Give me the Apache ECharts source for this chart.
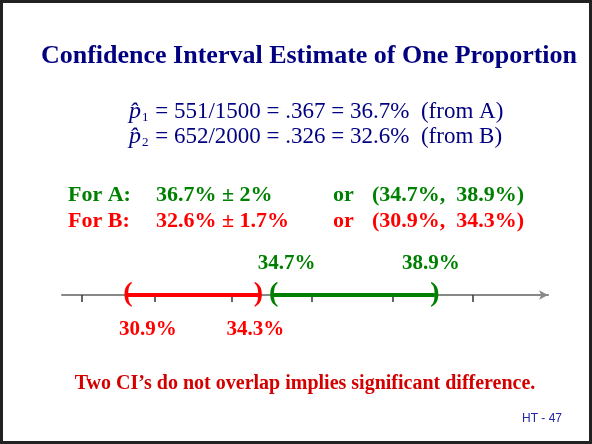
<!DOCTYPE html>
<html>
<head>
<meta charset="utf-8">
<script src="https://cdn.jsdelivr.net/npm/echarts@6/dist/echarts.min.js"></script>
<style>
  html, body { margin: 0; padding: 0; background: #fff; }
  #chart { width: 592px; height: 444px; }
</style>
</head>
<body>
<div id="chart"></div>
<script>
// slide data
var groups = ['A', 'B'];
var successes = [551, 652];
var sampleSizes = [1500, 2000];
var proportionText = ['.367', '.326'];
var estimates = [36.7, 32.6];
var margins = [2, 1.7];
var lowerBounds = [34.7, 30.9];
var upperBounds = [38.9, 34.3];
var tickValues = [29.7, 31.6, 33.6, 35.7, 37.8, 39.9];

var GREEN = '#008000';
var RED = '#ff0000';
var NAVY = '#000080';
var SERIF = '"Liberation Serif", "Times New Roman", serif';
var groupColors = [GREEN, RED];

var myChart = echarts.init(document.getElementById('chart'));

// text pieces of the slide
var graphics = [{
    type: 'rect',
    shape: { x: 1.5, y: 1.5, width: 589, height: 441 },
    style: { fill: 'none', stroke: '#222', lineWidth: 3 },
    silent: true
}, {
    type: 'text', x: 309, y: 56,
    style: {
        text: 'Confidence Interval Estimate of One Proportion',
        fontFamily: SERIF, fontSize: 26, fontWeight: 'bold', fill: NAVY,
        align: 'center', verticalAlign: 'middle'
    }
}];

groups.forEach(function (g, i) {
    var pct = estimates[i].toFixed(1) + '%';
    graphics.push({
        type: 'text', x: 129, y: 112 + i * 25,
        style: {
            text: '{p|p\u0302}{s|' + (i + 1) + '} = ' + successes[i] + '/' + sampleSizes[i] +
                ' = ' + proportionText[i] + ' = ' + pct + '  (from ' + g + ')',
            fontFamily: SERIF, fontSize: 23, fill: NAVY,
            align: 'left', verticalAlign: 'middle',
            rich: {
                p: { fontFamily: SERIF, fontSize: 24, fontStyle: 'italic', fill: NAVY },
                s: { fontFamily: SERIF, fontSize: 13, fill: NAVY, verticalAlign: 'bottom', padding: [9, 1, 0, 1] }
            }
        }
    });

    var rowY = 195 + i * 26;
    var rowStyle = function (txt) {
        return {
            text: txt, fontFamily: SERIF, fontSize: 22, fontWeight: 'bold',
            fill: groupColors[i], align: 'left', verticalAlign: 'middle'
        };
    };
    graphics.push({ type: 'text', x: 68, y: rowY, style: rowStyle('For ' + g + ':') });
    graphics.push({ type: 'text', x: 156, y: rowY, style: rowStyle(pct + ' \u00b1 ' + margins[i] + '%') });
    graphics.push({ type: 'text', x: 333, y: rowY, style: rowStyle('or') });
    graphics.push({ type: 'text', x: 372, y: rowY,
        style: rowStyle('(' + lowerBounds[i].toFixed(1) + '%,  ' + upperBounds[i].toFixed(1) + '%)') });
});

graphics.push({
    type: 'text', x: 305, y: 384,
    style: {
        text: 'Two CI\u2019s do not overlap implies significant difference.',
        fontFamily: SERIF, fontSize: 20, fontWeight: 'bold', fill: '#d40000',
        align: 'center', verticalAlign: 'middle'
    }
});
graphics.push({
    type: 'text', x: 562, y: 419,
    style: {
        text: 'HT - 47', fontFamily: '"Liberation Sans", Arial, sans-serif',
        fontSize: 12, fill: '#2323a8', align: 'right', verticalAlign: 'middle'
    }
});

// number line series
var series = [];
// label offsets: above for A, below for B
var labelOffsets = [[[13, -31], [-4, -31]], [[20, 35], [-3, 35]]];

groups.forEach(function (g, i) {
    var color = groupColors[i];
    series.push({
        name: 'CI ' + g,
        type: 'line',
        data: [[lowerBounds[i], 0], [upperBounds[i], 0]],
        symbol: 'none',
        lineStyle: { color: color, width: 4 },
        z: 3
    });
    series.push({
        name: 'paren ' + g,
        type: 'scatter',
        data: [[lowerBounds[i], 0], [upperBounds[i], 0]],
        symbolSize: 1,
        itemStyle: { color: 'transparent', opacity: 1 },
        label: {
            show: true,
            position: 'inside',
            offset: [0, -1],
            formatter: function (p) { return p.dataIndex === 0 ? '(' : ')'; },
            fontFamily: SERIF, fontSize: 28, fontWeight: 'bold', color: color,
            opacity: 1, textBorderWidth: 0
        },
        z: 4
    });
    series.push({
        name: 'value ' + g,
        type: 'scatter',
        data: [lowerBounds[i], upperBounds[i]].map(function (v, k) {
            return { value: [v, 0], label: { offset: labelOffsets[i][k] } };
        }),
        symbolSize: 1,
        itemStyle: { color: 'transparent', opacity: 1 },
        label: {
            show: true,
            position: 'inside',
            formatter: function (p) { return p.value[0].toFixed(1) + '%'; },
            fontFamily: SERIF, fontSize: 21, fontWeight: 'bold', color: color,
            opacity: 1, textBorderWidth: 0
        },
        z: 4
    });
});

var option = {
    animation: false,
    backgroundColor: '#fff',
    graphic: graphics,
    grid: { left: 62, right: 44, top: 245, bottom: 99 },
    xAxis: {
        type: 'value',
        min: 29.18,
        max: 41.85,
        axisLine: {
            onZero: true,
            symbol: ['none', 'arrow'],
            symbolSize: [7, 9],
            lineStyle: { color: '#888', width: 2 }
        },
        axisTick: {
            show: true,
            customValues: tickValues,
            length: 7,
            lineStyle: { color: '#333', width: 1.5 }
        },
        axisLabel: { show: false },
        splitLine: { show: false }
    },
    yAxis: {
        type: 'value',
        min: -1,
        max: 1,
        show: false
    },
    series: series
};

myChart.setOption(option);
</script>
</body>
</html>
